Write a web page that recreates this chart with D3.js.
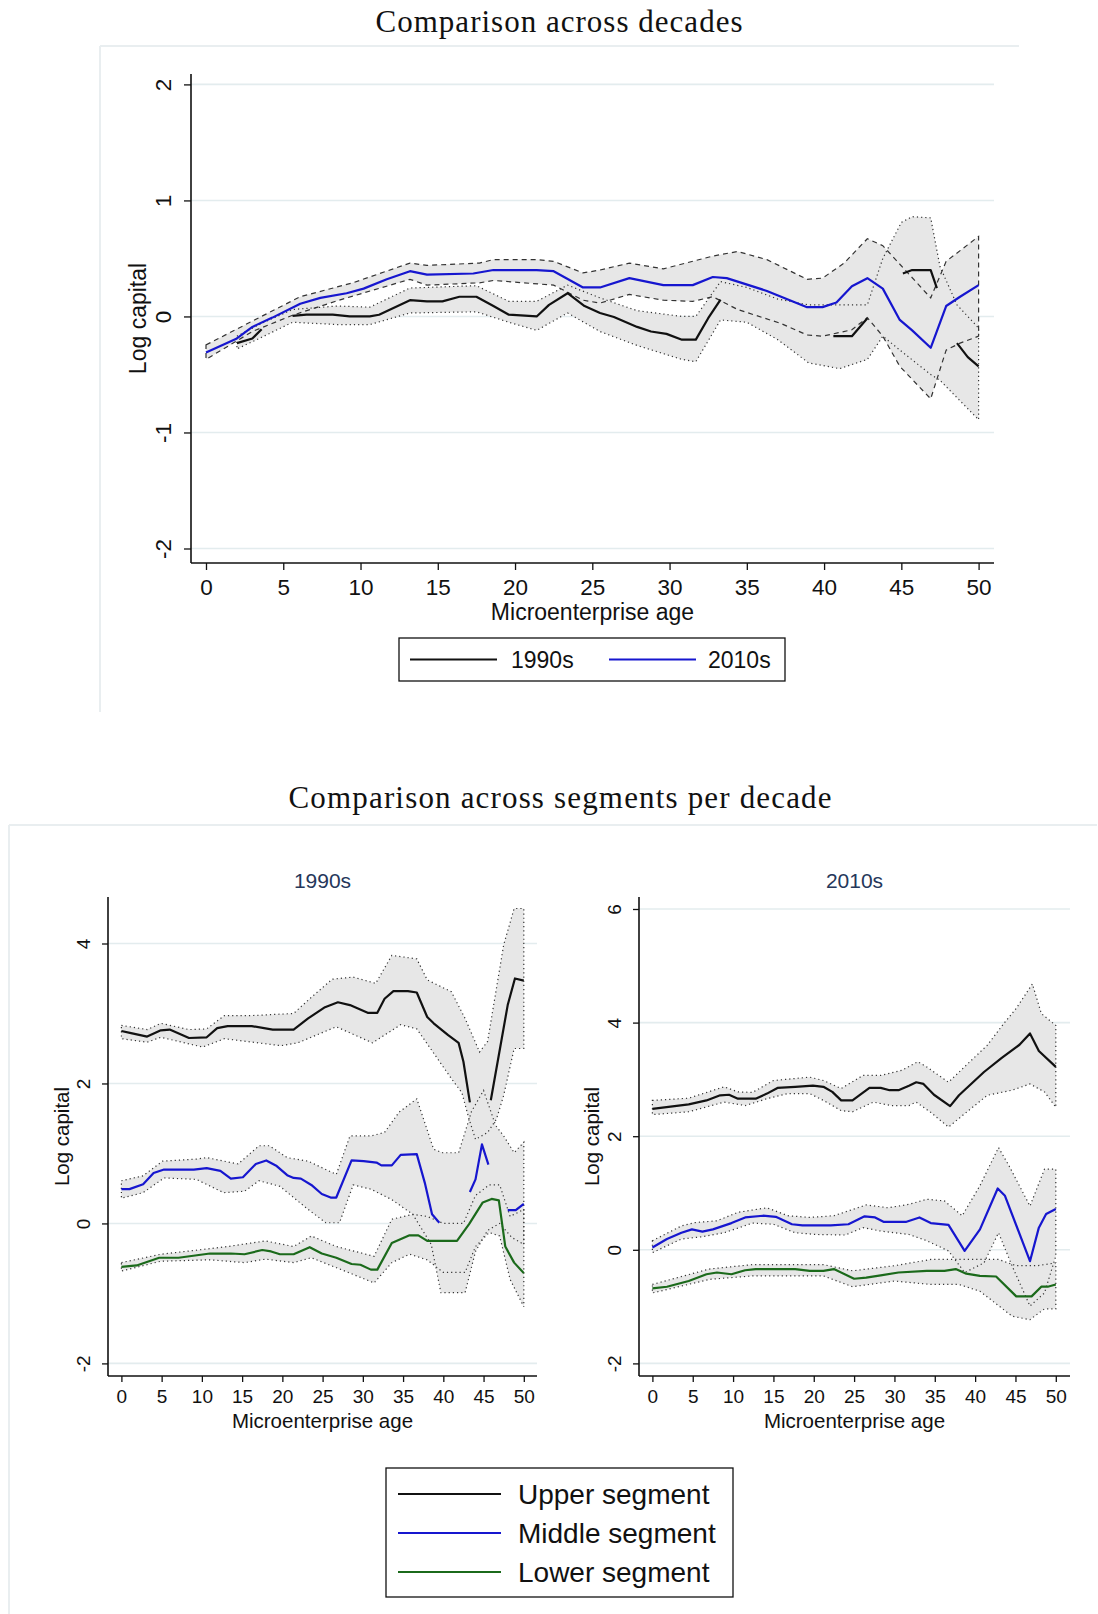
<!DOCTYPE html>
<html>
<head>
<meta charset="utf-8">
<script src="https://cdn.jsdelivr.net/npm/d3@7/dist/d3.min.js"></script>
<style>
  body { margin: 0; background: #fff; }
  svg text { font-family: "Liberation Sans", Arial, sans-serif; fill: #111; }
</style>
</head>
<body>
<div id="chart"></div>
<script>
// ---- data: [age, log capital], null = gap ----
const xTicks = [0, 5, 10, 15, 20, 25, 30, 35, 40, 45, 50];

// top chart: 1990s vs 2010s
const topYTicks = [-2, -1, 0, 1, 2];
const dec1990 = [[2,-0.23],[3,-0.19],[3.6,-0.11],[4.5,null],[5.6,0.005],[6.5,0.015],[8.2,0.015],[9.3,0],[10.6,0],[11.2,0.015],[13.2,0.14],[14.3,0.13],[15.3,0.13],[16.4,0.17],[17.5,0.17],[18.6,0.09],[19.6,0.015],[21.4,0],[22.2,0.10],[23.4,0.20],[24.5,0.09],[25.5,0.03],[26.4,-0.005],[27.9,-0.09],[28.8,-0.13],[29.8,-0.15],[30.8,-0.20],[31.7,-0.20],[32.5,-0.015],[33.3,0.145],[37,null],[40.6,-0.17],[41.8,-0.17],[42.8,-0.015],[44,null],[45.1,0.37],[45.7,0.40],[46.9,0.40],[47.3,0.245],[48,null],[48.6,-0.23],[49.3,-0.35],[50,-0.43]];
const dec1990Hi = [[2,-0.17],[3.6,-0.06],[5.6,0.06],[8.5,0.09],[10.6,0.08],[13.2,0.245],[17.5,0.265],[19.6,0.13],[21.4,0.13],[23.4,0.27],[25.5,0.16],[27.9,0.05],[30.8,0.0],[31.7,0.0],[33.3,0.30],[35,0.25],[37,0.15],[39,0.1],[41,0.1],[42.8,0.1],[43.8,0.5],[45,0.81],[45.7,0.86],[46.9,0.85],[47.5,0.43],[48.6,0.1],[50,-0.1]];
const dec1990Lo = [[2,-0.28],[3.6,-0.18],[5.6,-0.05],[8.5,-0.07],[10.6,-0.07],[13.2,0.03],[17.5,0.04],[19.6,-0.05],[21.4,-0.12],[23.4,0.03],[25.5,-0.13],[27.9,-0.25],[30.8,-0.37],[31.7,-0.39],[33.3,-0.03],[35,-0.05],[37,-0.2],[39,-0.40],[41,-0.45],[42.8,-0.37],[43.8,-0.17],[45,-0.3],[46.9,-0.5],[47.5,-0.55],[48.6,-0.7],[50,-0.89]];
const dec2010 = [[0,-0.31],[2,-0.19],[3,-0.09],[4.3,-0.01],[6.1,0.11],[7.4,0.16],[9.1,0.20],[10.2,0.24],[11.7,0.32],[13.2,0.39],[14.3,0.36],[17.3,0.37],[18.6,0.40],[21.4,0.40],[22.5,0.39],[24.4,0.25],[25.5,0.25],[27.4,0.33],[29.6,0.27],[31.5,0.27],[32.8,0.34],[33.7,0.33],[36.3,0.22],[38.9,0.08],[39.9,0.08],[40.8,0.12],[41.8,0.26],[42.8,0.33],[43.8,0.24],[44.9,-0.03],[45.7,-0.12],[46.9,-0.27],[47.9,0.09],[48.8,0.17],[50,0.27]];
const dec2010Hi = [[0,-0.245],[3,-0.04],[6.1,0.17],[9.5,0.29],[13.2,0.46],[14.3,0.44],[17.7,0.46],[18.6,0.49],[21.4,0.49],[22.5,0.475],[24.4,0.375],[25.5,0.40],[27.4,0.46],[29.6,0.41],[32.8,0.52],[34.4,0.56],[36.3,0.49],[38.9,0.32],[39.9,0.33],[41.3,0.46],[42.8,0.67],[43.8,0.61],[46.9,0.16],[47.9,0.475],[50,0.69]];
const dec2010Lo = [[0,-0.37],[3,-0.13],[5.6,0.01],[8.6,0.14],[13.2,0.32],[14.3,0.27],[17.7,0.29],[18.6,0.31],[22.5,0.27],[24.4,0.14],[25.5,0.115],[27.4,0.19],[29.6,0.14],[31.5,0.13],[32.8,0.17],[34.4,0.06],[37.2,-0.06],[38.9,-0.16],[39.9,-0.17],[41.8,-0.115],[42.8,-0.01],[43.8,-0.17],[44.9,-0.43],[46.9,-0.71],[47.9,-0.29],[48.8,-0.23],[50,-0.17]];

// bottom left: segments, 1990s
const leftYTicks = [-2, 0, 2, 4];
const up1990 = [[0,2.75],[1.2,2.72],[3.2,2.67],[4.9,2.76],[6,2.77],[8.4,2.65],[10.6,2.66],[11.9,2.79],[13.2,2.82],[16.2,2.82],[18.8,2.77],[21.4,2.77],[23.2,2.93],[25.3,3.09],[26.9,3.16],[28.4,3.12],[30.6,3.01],[31.8,3.01],[32.7,3.21],[33.8,3.32],[35.6,3.32],[36.7,3.30],[38,2.95],[38.8,2.86],[40.6,2.69],[41.9,2.58],[42.5,2.31],[43.3,1.73],[44.5,null],[45.9,1.76],[48,3.12],[48.9,3.50],[50,3.47]];
const up1990Hi = [[0,2.83],[3.2,2.77],[4.9,2.86],[8.4,2.77],[10.6,2.78],[12.8,2.97],[16.2,2.97],[21.4,3.0],[23.2,3.19],[26.2,3.49],[28.8,3.52],[31.6,3.43],[33.6,3.83],[36.7,3.78],[38,3.48],[41,3.31],[42.7,2.93],[44.5,2.45],[45.5,2.6],[47.5,3.98],[48.8,4.5],[50,4.5]];
const up1990Lo = [[0,2.64],[3.2,2.59],[4.9,2.66],[10.1,2.52],[12.8,2.64],[19.8,2.54],[21.9,2.58],[26.7,2.81],[31.2,2.58],[34.7,2.84],[36.7,2.78],[38.4,2.50],[41,2.07],[42.3,1.87],[43.2,1.49],[44,1.2],[45.5,1.3],[46.6,1.49],[47.5,1.83],[48.8,2.50],[50,2.50]];
const mid1990 = [[0,0.49],[1,0.49],[2.7,0.56],[4,0.72],[5.3,0.77],[9,0.77],[10.6,0.79],[12.3,0.75],[13.6,0.64],[15.1,0.66],[16.7,0.85],[18,0.90],[19.3,0.82],[20.6,0.69],[21.4,0.65],[22.3,0.64],[23.6,0.55],[24.9,0.42],[26,0.37],[26.7,0.37],[28.6,0.90],[30.1,0.89],[31.7,0.87],[32.3,0.83],[33.6,0.83],[34.7,0.98],[36.7,0.99],[37.7,0.58],[38.6,0.13],[39.5,0.01],[41,null],[43.3,0.45],[44,0.63],[44.8,1.13],[45.6,0.84],[46.5,null],[48,0.19],[49,0.19],[50,0.28]];
const mid1990Hi = [[0,0.61],[2.7,0.68],[5.1,0.89],[9.3,0.92],[10.6,0.94],[14.5,0.85],[17.1,1.11],[18.4,1.11],[20.6,0.94],[23.2,0.89],[26.7,0.70],[28.4,1.25],[31,1.25],[32.7,1.30],[34.5,1.59],[36.7,1.78],[38.8,1.06],[39.9,1.01],[41.9,1.01],[43.5,1.6],[45,1.9],[46.5,1.4],[47.5,1.25],[48.8,1.01],[50,1.16]];
const mid1990Lo = [[0,0.36],[2.7,0.44],[5.3,0.65],[9.3,0.63],[12.7,0.44],[15.3,0.46],[17.1,0.61],[19.7,0.53],[23.2,0.20],[25.4,0.01],[27.1,0.01],[28.8,0.55],[31,0.49],[33.6,0.34],[36.2,0.13],[38.5,-0.3],[39.7,-0.99],[42.7,-0.99],[44,-0.4],[45.5,-0.1],[47,0.0],[48.5,-0.2],[50,-0.3]];
const low1990 = [[0,-0.62],[1.9,-0.60],[4.7,-0.49],[7.1,-0.49],[11,-0.43],[13.6,-0.43],[15.3,-0.44],[17.5,-0.38],[18.6,-0.40],[19.7,-0.44],[21.4,-0.44],[23.4,-0.34],[24.9,-0.43],[26.7,-0.49],[28.6,-0.58],[29.7,-0.59],[31,-0.66],[31.8,-0.66],[33.6,-0.28],[35.8,-0.17],[36.9,-0.17],[38,-0.25],[41.7,-0.25],[43.2,-0.01],[44.9,0.30],[46,0.35],[46.9,0.33],[47.7,-0.33],[48.8,-0.56],[50,-0.71]];
const low1990Hi = [[0,-0.56],[4.9,-0.44],[11,-0.36],[13.2,-0.33],[17.9,-0.25],[21.4,-0.33],[23.6,-0.18],[26.7,-0.33],[31.4,-0.47],[33.6,0.06],[36.2,0.13],[38,0.10],[40,0.0],[42.5,0.0],[44,0.4],[45.7,0.55],[47,0.55],[48.3,0.1],[50,0.2]];
const low1990Lo = [[0,-0.68],[4.9,-0.54],[11,-0.52],[15.3,-0.56],[17.9,-0.51],[21.4,-0.56],[23.6,-0.49],[28.4,-0.71],[31.4,-0.85],[33.6,-0.56],[35.8,-0.44],[38,-0.52],[40,-0.7],[42.7,-0.7],[44,-0.33],[45.7,-0.13],[47,-0.18],[48.3,-0.80],[50,-1.19]];

// bottom right: segments, 2010s
const rightYTicks = [-2, 0, 2, 4, 6];
const up2010 = [[0,2.48],[4.5,2.56],[6.7,2.63],[8.4,2.72],[9.5,2.73],[10.6,2.66],[12.8,2.66],[14.2,2.75],[15.5,2.85],[17.7,2.87],[19.9,2.89],[21.2,2.87],[22.3,2.78],[23.4,2.63],[24.8,2.63],[26.9,2.85],[28.3,2.85],[29.4,2.81],[30.5,2.81],[31.8,2.89],[32.7,2.95],[33.6,2.92],[34.9,2.73],[36.9,2.53],[38,2.72],[41.1,3.13],[43.3,3.38],[45.5,3.61],[46.8,3.81],[47.9,3.50],[50,3.22]];
const up2010Hi = [[0,2.63],[4.5,2.67],[8.9,2.87],[10.6,2.78],[12.4,2.77],[15,2.98],[19.5,3.04],[21.2,2.98],[23.4,2.84],[26.1,3.07],[28.3,3.07],[30.9,3.16],[32.9,3.31],[34,3.22],[36.7,2.95],[38.9,3.25],[41.5,3.60],[43.7,4.01],[45.1,4.25],[47.1,4.68],[48.2,4.16],[50,3.95]];
const up2010Lo = [[0,2.38],[4.5,2.43],[8.9,2.60],[11.5,2.54],[14.2,2.66],[16.8,2.75],[19.5,2.75],[21.2,2.63],[23.4,2.45],[24.8,2.43],[27.4,2.60],[29.6,2.54],[31.8,2.54],[32.7,2.60],[34.5,2.42],[36.7,2.16],[38.4,2.36],[41.5,2.72],[44.6,2.81],[46.8,2.92],[48.6,2.78],[50,2.51]];
const mid2010 = [[0,0.04],[1.8,0.19],[3.6,0.30],[4.9,0.36],[6.2,0.32],[7.5,0.36],[9.8,0.47],[11.5,0.57],[13.7,0.60],[15.3,0.58],[17.3,0.45],[18.6,0.43],[22.1,0.43],[24.3,0.45],[26.3,0.59],[27.6,0.57],[28.7,0.49],[31.4,0.49],[33.1,0.57],[34.5,0.47],[36.7,0.44],[38.7,-0.02],[40.6,0.36],[42.8,1.08],[43.7,0.95],[46.8,-0.20],[47.9,0.39],[48.8,0.63],[50,0.72]];
const mid2010Hi = [[0,0.16],[3.6,0.42],[5.3,0.48],[8,0.51],[10.6,0.66],[14.2,0.74],[16.8,0.60],[19.5,0.57],[22.5,0.60],[26.5,0.79],[29.2,0.74],[31.8,0.80],[34,0.89],[36.2,0.86],[38.4,0.60],[40.6,1.13],[42.9,1.80],[44.2,1.48],[46.8,0.77],[48.6,1.42],[50,1.42]];
const mid2010Lo = [[0,-0.05],[3.6,0.19],[6.2,0.23],[8.9,0.30],[12.4,0.47],[15,0.45],[17.7,0.30],[20.3,0.27],[23.9,0.26],[26.1,0.39],[28.3,0.33],[31.8,0.27],[34,0.16],[36.7,-0.02],[38.7,-0.40],[41.1,-0.23],[42.9,0.30],[44.6,-0.29],[46.8,-0.99],[48.6,-0.76],[50,-0.11]];
const low2010 = [[0,-0.68],[1.8,-0.65],[4.5,-0.55],[6.7,-0.43],[8,-0.40],[9.8,-0.43],[11.5,-0.36],[12.8,-0.34],[17.7,-0.34],[19.5,-0.37],[21.2,-0.37],[22.5,-0.34],[25,-0.51],[26.5,-0.49],[28.3,-0.45],[30.5,-0.40],[34,-0.37],[36.2,-0.37],[37.6,-0.34],[38.9,-0.42],[40.6,-0.46],[42.6,-0.47],[45.1,-0.82],[47,-0.82],[48.2,-0.65],[49,-0.65],[50,-0.61]];
const low2010Hi = [[0,-0.61],[7,-0.34],[12.4,-0.26],[21.2,-0.26],[24.8,-0.37],[30,-0.28],[34.5,-0.17],[38.9,-0.17],[42.9,-0.17],[45.1,-0.28],[47.7,-0.28],[50,-0.23]];
const low2010Lo = [[0,-0.76],[7.1,-0.52],[12.4,-0.46],[21.2,-0.46],[24.8,-0.65],[30,-0.55],[34.5,-0.61],[38,-0.61],[40.6,-0.73],[44.6,-1.17],[46.8,-1.23],[48.6,-1.04],[50,-1.04]];

const decadeLegend = ["1990s", "2010s"];
const segmentLegend = ["Upper segment", "Middle segment", "Lower segment"];

const BLACK = "#111", BLUE = "#1616cf", GREEN = "#1b6a1b";
const CI_FILL = "#e7e7e7", GRID = "#e3ecee", FRAME = "#e9eef0";

const svg = d3.select("#chart").append("svg")
    .attr("width", 1098)
    .attr("height", 1614)
    .style("background-color", "white");

function frame(x0, y0, x1, y1) {
  svg.append("line").attr("x1", x0).attr("x2", x1).attr("y1", y0).attr("y2", y0)
      .attr("stroke", FRAME).attr("stroke-width", 2);
  svg.append("line").attr("x1", x0).attr("x2", x0).attr("y1", y0).attr("y2", y1)
      .attr("stroke", FRAME).attr("stroke-width", 2);
}

function title(text, x, y, len) {
  svg.append("text").text(text)
      .attr("x", x).attr("y", y)
      .attr("text-anchor", "middle")
      .attr("textLength", len).attr("lengthAdjust", "spacing")
      .style("font-family", "'Liberation Serif', 'Times New Roman', serif")
      .style("font-size", "31px");
}

// one plot panel
function drawPanel(p) {
  const x = d3.scaleLinear().domain([0, 50]).range(p.xr);
  const y = d3.scaleLinear().domain([p.yTicks[0], p.yTicks[p.yTicks.length - 1]]).range(p.yr);
  const g = svg.append("g");

  // grid
  g.selectAll(null).data(p.yTicks).enter().append("line")
      .attr("x1", p.axisX).attr("x2", p.right)
      .attr("y1", d => y(d)).attr("y2", d => y(d))
      .attr("stroke", GRID).attr("stroke-width", 1.6);

  const ptsOf = arr => arr.filter(d => d[1] !== null).map(d => [x(d[0]), y(d[1])]);
  const bandPath = b => d3.line()(ptsOf(b.hi).concat(ptsOf(b.lo).reverse())) + "Z";

  // CI fills, then outlines
  g.selectAll(null).data(p.bands).enter().append("path")
      .attr("d", bandPath).attr("fill", CI_FILL).attr("stroke", "none");
  g.selectAll(null).data(p.bands).enter().append("path")
      .attr("d", bandPath).attr("fill", "none")
      .attr("stroke", "#333").attr("stroke-width", 1.2)
      .attr("stroke-dasharray", b => b.dash);

  // mean lines
  const line = d3.line().defined(d => d[1] !== null).x(d => x(d[0])).y(d => y(d[1]));
  g.selectAll(null).data(p.series).enter().append("path")
      .attr("d", s => line(s.data)).attr("fill", "none")
      .attr("stroke", s => s.color).attr("stroke-width", 2.2)
      .attr("stroke-linejoin", "round");

  // axes
  const ax = g.append("g").attr("transform", `translate(0,${p.axisY})`)
      .call(d3.axisBottom(x).tickValues(xTicks).tickSize(p.tick).tickPadding(p.xPad));
  ax.select(".domain").remove();
  ax.selectAll("text").style("font-size", p.font + "px").attr("dy", "0.71em");
  g.append("line").attr("x1", p.axisX).attr("x2", p.right).attr("y1", p.axisY).attr("y2", p.axisY)
      .attr("stroke", "#111").attr("stroke-width", 1.6);

  const ay = g.append("g").attr("transform", `translate(${p.axisX},0)`)
      .call(d3.axisLeft(y).tickValues(p.yTicks).tickSize(p.tick).tickFormat(d => String(d)));
  ay.select(".domain").remove();
  ay.selectAll("text")
      .attr("x", null).attr("dy", null)
      .attr("text-anchor", "middle")
      .attr("transform", `translate(${p.yLabX - p.axisX},0) rotate(-90)`)
      .style("font-size", p.font + "px");
  g.append("line").attr("x1", p.axisX).attr("x2", p.axisX).attr("y1", p.top).attr("y2", p.axisY)
      .attr("stroke", "#111").attr("stroke-width", 1.6);
  g.selectAll(".tick line").attr("stroke", "#111").attr("stroke-width", 1.3);

  g.append("text").text("Microenterprise age")
      .attr("x", (p.axisX + p.right) / 2).attr("y", p.xTitleY)
      .attr("text-anchor", "middle").style("font-size", p.titleFont + "px");
  g.append("text").text("Log capital")
      .attr("transform", `translate(${p.yTitleX},${(p.top + p.axisY) / 2}) rotate(-90)`)
      .attr("text-anchor", "middle").style("font-size", p.titleFont + "px");

  if (p.sub) {
    g.append("text").text(p.sub)
        .attr("x", (p.axisX + p.right) / 2).attr("y", 888)
        .attr("text-anchor", "middle").style("font-size", "21px").style("fill", "#25375a");
  }
}

// ---- top chart ----
title("Comparison across decades", 559, 32, 367);
frame(100, 46, 1019, 712);
drawPanel({
  xr: [206, 978.6], yr: [548.5, 84.4], yTicks: topYTicks,
  axisX: 191, right: 994, top: 74, axisY: 563,
  tick: 7, xPad: 9, font: 22.5, titleFont: 23,
  yLabX: 171, yTitleX: 146, xTitleY: 620,
  bands: [
    { hi: dec1990Hi, lo: dec1990Lo, dash: "1.2,3" },
    { hi: dec2010Hi, lo: dec2010Lo, dash: "5,4" }
  ],
  series: [
    { data: dec1990, color: BLACK },
    { data: dec2010, color: BLUE }
  ]
});

// top legend
const lg1 = svg.append("g");
lg1.append("rect").attr("x", 399).attr("y", 638).attr("width", 386).attr("height", 43)
    .attr("fill", "white").attr("stroke", "#111").attr("stroke-width", 1.3);
lg1.selectAll(null).data(decadeLegend).enter().append("line")
    .attr("x1", (d, i) => 410 + i * 199).attr("x2", (d, i) => 497 + i * 199)
    .attr("y1", 659.5).attr("y2", 659.5)
    .attr("stroke", (d, i) => [BLACK, BLUE][i]).attr("stroke-width", 2.2);
lg1.selectAll(null).data(decadeLegend).enter().append("text")
    .text(d => d).attr("x", (d, i) => 511 + i * 197).attr("y", 668)
    .style("font-size", "23px");

// ---- bottom chart ----
title("Comparison across segments per decade", 560, 808, 543);
frame(9, 825, 1097, 1614);

drawPanel({
  xr: [121.4, 523.8], yr: [1363.4, 943.5], yTicks: leftYTicks,
  axisX: 108, right: 537, top: 897, axisY: 1376,
  tick: 6, xPad: 8, font: 19, titleFont: 20.5,
  yLabX: 90, yTitleX: 69, xTitleY: 1428, sub: "1990s",
  bands: [
    { hi: up1990Hi, lo: up1990Lo, dash: "1.2,3" },
    { hi: mid1990Hi, lo: mid1990Lo, dash: "1.2,3" },
    { hi: low1990Hi, lo: low1990Lo, dash: "1.2,3" }
  ],
  series: [
    { data: up1990, color: BLACK },
    { data: mid1990, color: BLUE },
    { data: low1990, color: GREEN }
  ]
});

drawPanel({
  xr: [652.4, 1055.8], yr: [1363.4, 909], yTicks: rightYTicks,
  axisX: 639, right: 1070, top: 897, axisY: 1376,
  tick: 6, xPad: 8, font: 19, titleFont: 20.5,
  yLabX: 621, yTitleX: 599, xTitleY: 1428, sub: "2010s",
  bands: [
    { hi: up2010Hi, lo: up2010Lo, dash: "1.2,3" },
    { hi: mid2010Hi, lo: mid2010Lo, dash: "1.2,3" },
    { hi: low2010Hi, lo: low2010Lo, dash: "1.2,3" }
  ],
  series: [
    { data: up2010, color: BLACK },
    { data: mid2010, color: BLUE },
    { data: low2010, color: GREEN }
  ]
});

// bottom legend
const lg2 = svg.append("g");
lg2.append("rect").attr("x", 386).attr("y", 1468).attr("width", 347).attr("height", 129)
    .attr("fill", "white").attr("stroke", "#111").attr("stroke-width", 1.3);
lg2.selectAll(null).data(segmentLegend).enter().append("line")
    .attr("x1", 398).attr("x2", 501)
    .attr("y1", (d, i) => 1494 + i * 39).attr("y2", (d, i) => 1494 + i * 39)
    .attr("stroke", (d, i) => [BLACK, BLUE, GREEN][i]).attr("stroke-width", 2.2);
lg2.selectAll(null).data(segmentLegend).enter().append("text")
    .text(d => d).attr("x", 518).attr("y", (d, i) => 1504 + i * 39)
    .style("font-size", "28px");
</script>
</body>
</html>
